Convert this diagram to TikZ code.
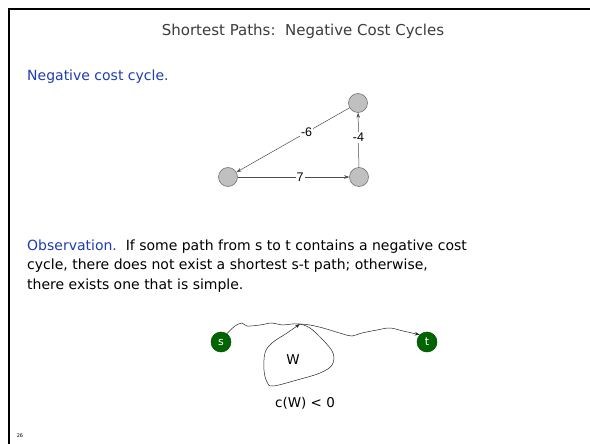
\documentclass[tikz,border=0pt]{standalone}
\usepackage{fontspec}
\setmainfont{DejaVu Sans}
\newfontfamily\arialf{Liberation Sans}
\usetikzlibrary{arrows.meta}
\definecolor{obsblue}{RGB}{30,60,180}
\definecolor{nodegray}{RGB}{192,192,192}
\definecolor{sgreen}{RGB}{0,100,0}
\definecolor{titlegray}{RGB}{60,60,60}
\begin{document}
\begin{tikzpicture}[x=1pt,y=-1pt,
  body/.style={anchor=base west,inner sep=0pt,font=\fontsize{14}{16}\selectfont},
  gnode/.style={circle,minimum size=19pt,inner sep=0pt,fill=nodegray,draw=black!60,line width=0.5pt},
  snode/.style={circle,minimum size=20pt,inner sep=0pt,fill=sgreen,draw=green!30!black,line width=0.5pt,text=white,font=\fontsize{11}{13}\selectfont},
  edge/.style={draw=black!70,line width=0.5pt,-{Stealth[length=5pt,width=3.5pt]}},
  lbl/.style={fill=white,inner sep=1pt,font=\arialf\fontsize{12.5}{14}\selectfont},
  wavy/.style={draw=black!85,line width=0.5pt}
]
\useasboundingbox (0,0) rectangle (590,444);
\fill[white] (0,0) rectangle (590,444);
\draw[line width=2.6pt,line join=miter] (9,444) -- (9,9) -- (590,9);

\node[text=titlegray,font=\fontsize{15}{18}\selectfont] (title) at (303,31) {Shortest Paths:\ \ Negative Cost Cycles};

\node[body,text=obsblue] (neg) at (27,81) {Negative cost cycle.};

% triangle graph
\node[gnode] (A) at (228,177) {};
\node[gnode] (B) at (359,177) {};
\node[gnode] (C) at (358,103) {};
\draw[edge] (A) -- node[lbl,pos=0.56] {7} (B);
\draw[edge] (B) -- node[lbl,pos=0.55] {-4} (C);
\draw[edge] (C) -- node[lbl,pos=0.38] {-6} (A);

% observation text
\node[body] (l1) at (27,250) {{\color{obsblue}Observation.}\ \ If some path from s to t contains a negative cost};
\node[body] (l2) at (27,269.5) {cycle, there does not exist a shortest s-t path; otherwise,};
\node[body] (l3) at (27,289) {there exists one that is simple.};

% s-t path with cycle
\node[snode] (s) at (221,342) {s};
\node[snode] (t) at (427,342) {t};
\coordinate (J) at (300,324);
\draw[wavy] plot[smooth,tension=0.6] coordinates {(s.55) (235,326) (242,323) (247,326) (260,325) (272,323) (282,325) (292,324) (J)};
\draw[wavy,-{Stealth[length=5pt,width=3.5pt]}] plot[smooth,tension=0.6] coordinates {(J) (310,325) (323,328) (333,331) (343,334) (352,336) (362,333) (377,330) (390,328) (403,331) (t.north west)};
\draw[wavy,-{Stealth[length=5pt,width=3.5pt]}] plot[smooth,tension=0.6] coordinates {(J) (310,328) (323,340) (333,353) (332,365) (320,373) (297,380) (273,386) (267,382) (264,370) (265,353) (272,343) (287,333) (J)};
\node[font=\fontsize{13.5}{15}\selectfont] (W) at (293,360) {W};
\node[font=\fontsize{13.5}{15}\selectfont] (cW) at (305,403) {c(W) < 0};

\node[font=\fontsize{5}{6}\selectfont] (pg) at (20,436) {26};
\end{tikzpicture}
\end{document}
